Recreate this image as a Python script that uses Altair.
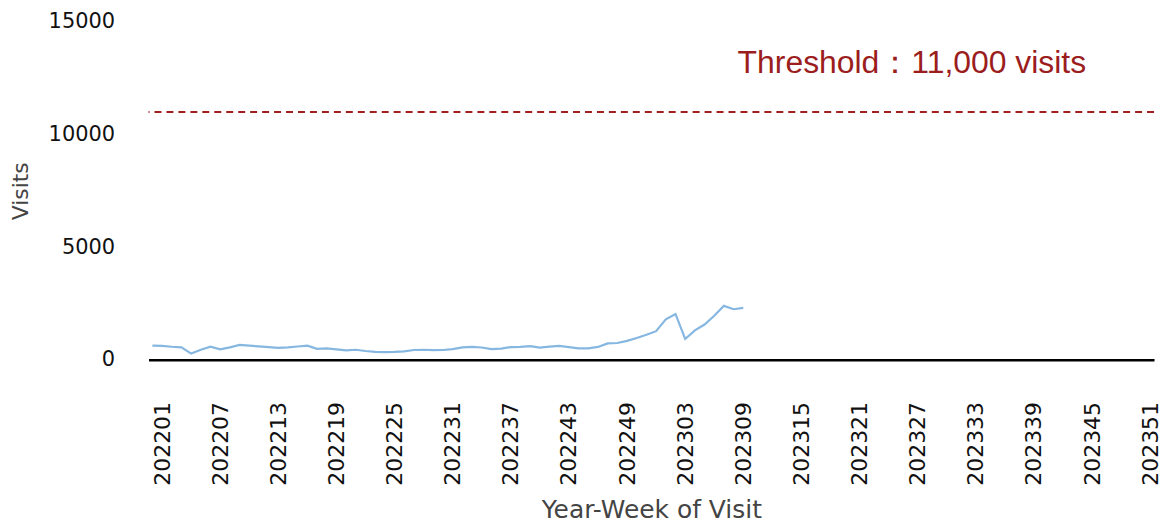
import altair as alt
import pandas as pd

# ---- data ----
weeks = (["202152"]
         + [f"2022{w:02d}" for w in range(1, 53)]
         + [f"2023{w:02d}" for w in range(1, 52)])

visits = [620, 615, 575, 545, 270, 440, 575, 460, 545, 655,
          620, 590, 560, 520, 545, 585, 620, 480, 500, 460,
          410, 440, 385, 345, 335, 345, 370, 430, 440, 420,
          430, 470, 545, 570, 540, 470, 490, 560, 570, 600,
          535, 580, 615, 560, 505, 500, 565, 720, 740, 835,
          965, 1110, 1265, 1790, 2030, 920, 1300, 1560, 1950, 2390,
          2240, 2300]

tick_labels = ["202201", "202207", "202213", "202219", "202225", "202231",
               "202237", "202243", "202249", "202303", "202309", "202315",
               "202321", "202327", "202333", "202339", "202345", "202351"]

y_ticks = [0, 5000, 10000, 15000]
threshold = 11000
note_text = "Threshold：11,000 visits"
note_week = "202308"
note_y = 13150

df = pd.DataFrame({"week": weeks[:len(visits)], "visits": visits})
thr_df = pd.DataFrame({"t": [threshold]})
note_df = pd.DataFrame({"week": [note_week], "y": [note_y], "label": [note_text]})

x_scale = alt.Scale(type="point", domain=weeks, padding=0.4)
y_scale = alt.Scale(domain=[0, 15000], nice=False)

line = alt.Chart(df).mark_line(color="#86b7e1", strokeWidth=2.2).encode(
    x=alt.X("week:O", scale=x_scale, sort=None,
            axis=alt.Axis(title="Year-Week of Visit", values=tick_labels,
                          labelAngle=-90, labelFont="DejaVu Sans", labelFontSize=22,
                          labelColor="#111", labelPadding=42, ticks=False, tickSize=0,
                          domainColor="#000", domainWidth=2.5, grid=False,
                          titleFont="DejaVu Sans", titleFontSize=25, titleFontWeight="normal",
                          titleColor="#444", titlePadding=12)),
    y=alt.Y("visits:Q", scale=y_scale,
            axis=alt.Axis(title="Visits", values=y_ticks, format="d",
                          labelFont="DejaVu Sans", labelFontSize=21, labelColor="#111",
                          labelPadding=34, ticks=False, tickSize=0, domain=False, grid=False,
                          titleFont="DejaVu Sans", titleFontSize=22, titleFontWeight="normal",
                          titleColor="#444", titlePadding=16)),
)

rule = alt.Chart(thr_df).mark_rule(color="#a11f1f", strokeWidth=2, strokeDash=[7, 5]).encode(
    y=alt.Y("t:Q", scale=y_scale)
)

note = alt.Chart(note_df).mark_text(
    align="left", baseline="middle", font="Liberation Sans", fontSize=32,
    color="#9b1d1d", dx=4
).encode(
    x=alt.X("week:O", scale=x_scale, sort=None),
    y=alt.Y("y:Q", scale=y_scale),
    text="label:N",
)

chart = alt.layer(line, rule, note).properties(
    width=1009, height=339,
    padding={"left": 141, "top": 13, "right": 10, "bottom": 164},
    autosize=alt.AutoSizeParams(type="none"),
    background="white",
).configure_view(stroke=None)

chart.save("out.html", embed_options={"renderer": "svg", "actions": False})
